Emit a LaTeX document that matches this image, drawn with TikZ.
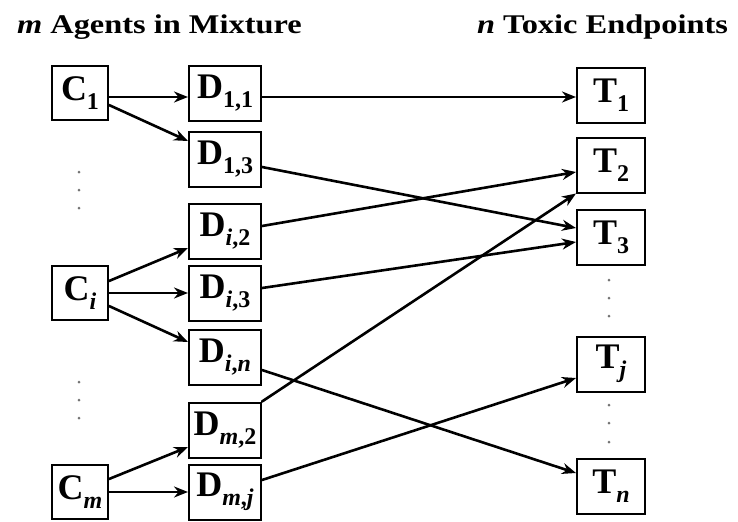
\documentclass[tikz,border=0pt]{standalone}
\usepackage{fontspec}
\setmainfont{Liberation Serif}
\newfontfamily\headfont[FakeStretch=1.2]{Liberation Serif}
\usetikzlibrary{arrows.meta,calc}
\newcommand\low[1]{\raisebox{-4.5pt}{\fontsize{12}{12}\selectfont #1}}

\begin{document}
\begin{tikzpicture}[x=0.5pt,y=-0.5pt,>={Stealth[length=7pt,width=5.5pt]},line cap=round,
  box/.style={draw,line width=1pt,minimum width=36pt,minimum height=27.5pt,inner sep=0pt,font=\fontsize{18}{20}\selectfont\bfseries},
  cbox/.style={box,minimum width=28pt,minimum height=27pt},
  tbox/.style={box,minimum width=34pt},
  link/.style={->,line width=1.3pt},
  head/.style={font=\fontsize{13.5}{16}\selectfont\headfont\bfseries}]
\useasboundingbox (0,0) rectangle (738,521);
% column headings
\node[head,anchor=base west] (hagents) at (10,33) {\textit{m} Agents in Mixture};
\node[head,anchor=base east] (hends) at (735,33) {\textit{n} Toxic Endpoints};
% agents
\node[cbox] (C1) at (80,93) {C\low{1}};
\node[cbox] (Ci) at (80,293) {C\low{\textit{i}}};
\node[cbox] (Cm) at (80,492) {C\low{\textit{m}}};
% doses
\node[box] (D11) at (225,93) {D\low{1,1}};
\node[box] (D13) at (225,159) {D\low{1,3}};
\node[box] (Di2) at (225,231) {D\low{\textit{i},2}};
\node[box] (Di3) at (225,293) {D\low{\textit{i},3}};
\node[box] (Din) at (225,357) {D\low{\textit{i},\textit{n}}};
\node[box] (Dm2) at (225,430) {D\low{\textit{m},2}};
\node[box] (Dmj) at (225,492) {D\low{\textit{m},\textit{j}}};
% endpoints
\node[tbox] (T1) at (611,95) {T\low{1}};
\node[tbox] (T2) at (611,165) {T\low{2}};
\node[tbox] (T3) at (611,237) {T\low{3}};
\node[tbox] (Tj) at (611,364) {T\low{\textit{j}}};
\node[tbox] (Tn) at (611,486) {T\low{\textit{n}}};
% vertical dots
\foreach \y in {172,190,208,382,400,418}
  \fill[black!55] (79,\y) circle (0.75pt);
\foreach \y in {280,298,316,405,423,442}
  \fill[black!55] (609,\y) circle (0.75pt);
% agent -> dose
\draw[link] ($(C1.east)+(0,4)$) -- ($(D11.west)+(0,4)$);
\draw[link] ($(C1.east)+(0,12)$) -- ($(D13.west)+(0,-18)$);
\draw[link] ($(Ci.east)+(0,-12)$) -- ($(Di2.west)+(0,17)$);
\draw[link] (Ci.east) -- (Di3.west);
\draw[link] ($(Ci.east)+(0,13)$) -- ($(Din.west)+(0,-15)$);
\draw[link] ($(Cm.east)+(0,-13)$) -- ($(Dm2.west)+(0,17)$);
\draw[link] (Cm.east) -- (Dmj.west);
% dose -> endpoint
\draw[link] ($(D11.east)+(0,4)$) -- ($(T1.west)+(0,2)$);
\draw[link] ($(D13.east)+(0,8)$) -- ($(T3.west)+(0,-9)$);
\draw[link] ($(Di2.east)+(0,-5)$) -- ($(T2.west)+(0,7)$);
\draw[link] ($(Di3.east)+(0,-5)$) -- ($(T3.west)+(0,5)$);
\draw[link] ($(Din.east)+(0,13)$) -- ($(Tn.west)+(0,-13)$);
\draw[link] (Dm2.north east) -- (T2.south west);
\draw[link] ($(Dmj.east)+(0,-12)$) -- ($(Tj.west)+(0,14)$);
\end{tikzpicture}
\end{document}
